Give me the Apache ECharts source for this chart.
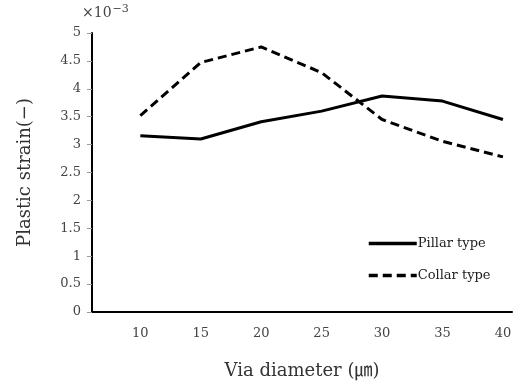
<!DOCTYPE html>
<html>
<head>
<meta charset="utf-8">
<script src="https://cdn.jsdelivr.net/npm/echarts@6/dist/echarts.min.js"></script>
<style>
  html, body { margin: 0; padding: 0; background: #fff; }
  #chart { width: 519px; height: 385px; }
</style>
</head>
<body>
<div id="chart"></div>
<script>
// Via diameter (µm) and plastic strain (×10^-3) for the two via structures
const diameters = [10, 15, 20, 25, 30, 35, 40];
const pillarStrain = [3.16, 3.10, 3.41, 3.60, 3.87, 3.78, 3.45];
const collarStrain = [3.52, 4.47, 4.75, 4.29, 3.45, 3.06, 2.78];
const yTicks = [0, 0.5, 1, 1.5, 2, 2.5, 3, 3.5, 4, 4.5, 5];
const seriesNames = ['Pillar type', 'Collar type'];

const serif = '"DejaVu Serif", "Liberation Serif", "Noto Sans CJK KR", serif';

const pair = (xs, ys) => xs.map((x, i) => [x, ys[i]]);

const chart = echarts.init(document.getElementById('chart'));
chart.setOption({
  animation: false,
  backgroundColor: '#fff',
  grid: { left: 92, top: 33, right: 7, bottom: 73, containLabel: false },
  xAxis: {
    type: 'value',
    min: 6,
    max: 40.75,
    name: 'Via diameter (㎛)',
    nameLocation: 'middle',
    nameGap: 50,
    nameTextStyle: { fontFamily: serif, fontSize: 18, color: '#333' },
    axisLine: { show: true, onZero: false, lineStyle: { color: '#000', width: 2 } },
    axisTick: { show: false },
    splitLine: { show: false },
    axisLabel: {
      customValues: diameters,
      margin: 15,
      fontFamily: serif,
      fontSize: 13,
      color: '#444'
    }
  },
  yAxis: {
    type: 'value',
    min: 0,
    max: 5,
    interval: 0.5,
    name: 'Plastic strain(−)',
    nameLocation: 'middle',
    nameGap: 58,
    nameTextStyle: { fontFamily: serif, fontSize: 18, color: '#333' },
    axisLine: { show: true, lineStyle: { color: '#000', width: 2 } },
    axisTick: { show: true, length: 5, lineStyle: { color: '#999', width: 1 } },
    splitLine: { show: false },
    axisLabel: {
      customValues: yTicks,
      margin: 11,
      fontFamily: serif,
      fontSize: 13,
      color: '#444'
    }
  },
  graphic: [{
    type: 'text',
    left: 82,
    top: 4,
    style: {
      text: '×10{sup|−3}',
      font: '14px ' + serif,
      fill: '#444',
      rich: { sup: { fontSize: 11, fontFamily: serif, verticalAlign: 'top', padding: [0, 0, 7, 1], fill: '#444' } }
    }
  }],
  legend: {
    orient: 'vertical',
    left: 362,
    top: 232,
    itemWidth: 48,
    itemHeight: 14,
    itemGap: 19,
    itemStyle: { opacity: 0 },
    lineStyle: { width: 3.5 },
    textStyle: { fontFamily: serif, fontSize: 13, color: '#222', padding: [0, 0, 0, -4] },
    data: seriesNames
  },
  series: [
    {
      name: seriesNames[0],
      type: 'line',
      data: pair(diameters, pillarStrain),
      symbol: 'none',
      lineStyle: { color: '#000', width: 3 },
      itemStyle: { color: '#000' }
    },
    {
      name: seriesNames[1],
      type: 'line',
      data: pair(diameters, collarStrain),
      symbol: 'none',
      lineStyle: { color: '#000', width: 3, type: [9, 5] },
      itemStyle: { color: '#000' }
    }
  ]
});
</script>
</body>
</html>
